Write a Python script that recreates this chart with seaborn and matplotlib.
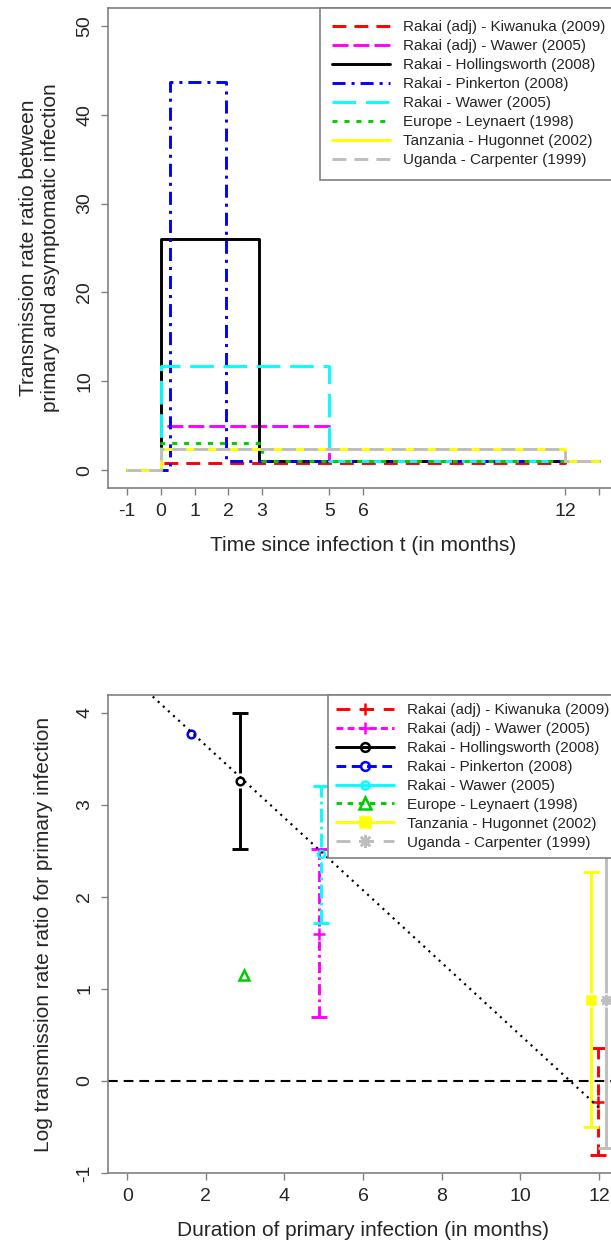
import matplotlib

matplotlib.use('Agg')
import matplotlib.pyplot as plt
from matplotlib.lines import Line2D
import seaborn as sns
import numpy as np

# studies, in legend order (same order for both panels)
studies = ['Rakai (adj) - Kiwanuka (2009)', 'Rakai (adj) - Wawer (2005)',
           'Rakai - Hollingsworth (2008)', 'Rakai - Pinkerton (2008)',
           'Rakai - Wawer (2005)', 'Europe - Leynaert (1998)',
           'Tanzania - Hugonnet (2002)', 'Uganda - Carpenter (1999)']

# top panel: rate ratio as a step function of time since infection (months)
step_t = [
    [-1, 0, 12, 13],
    [-1, 0, 5, 13],
    [-1, 0, 2.9, 13],
    [-1, 0.28, 1.93, 13],
    [-1, 0, 5, 13],
    [-1, 0, 3, 13],
    [-1, 0, 12, 13],
    [-1, 0, 12, 13],
]
step_rr = [
    [0, 0.78, 1, 1],
    [0, 5.0, 1, 1],
    [0, 26.0, 1, 1],
    [0, 43.7, 1, 1],
    [0, 11.7, 1, 1],
    [0, 3.1, 1, 1],
    [0, 2.4, 1, 1],
    [0, 2.4, 1, 1],
]
top_ticks = [-1, 0, 1, 2, 3, 5, 6, 12, 13]
top_ticklabels = ['-1', '0', '1', '2', '3', '5', '6', '12', '']

# bottom panel: duration vs log rate ratio with CI
dur = [11.98, 4.87, 2.87, 1.61, 4.93, 2.97, 11.79, 12.17]
log_rr = [-0.23, 1.60, 3.26, 3.77, 2.46, 1.15, 0.88, 0.88]
ci_lo = [-0.81, 0.69, 2.52, np.nan, 1.71, np.nan, -0.50, -0.73]
ci_hi = [0.36, 2.52, 4.00, np.nan, 3.20, np.nan, 2.27, 3.30]
reg_x = [0, 12]
reg_y = [4.43, -0.29]

# styles
colors = ['#ff0000', '#ff00ff', '#000000', '#0000ff', '#00ffff', '#00cd00', '#ffff00', '#bebebe']
top_ls = [(0, (10, 5.8)), (0, (11.5, 3.6)), '-', (0, (9.4, 4.3, 2.2, 4.3)),
          (0, (17, 7)), (0, (3.6, 5)), '-', (0, (10, 5.8))]
bar_ls = [(0, (8, 5)), (0, (8, 3, 2, 3)), '-', '-', (0, (10, 3, 2, 3)), '-', '-', '-']
leg_ls = [(0, (10, 7)), (0, (5, 3)), '-', (0, (7, 4)), '-', (0, (4, 4)), '-', (0, (10, 7))]
markers = ['+', '+', 'o', 'o', 'o', '^', 's', (8, 2, 0)]
msizes = [8, 8, 5.5, 5.5, 5, 7, 6, 8]
mfaces = ['none', 'none', 'none', 'none', 'none', 'none', '#ffff00', 'none']

sns.set_style('white')
plt.rcParams.update({
    'font.family': ['Liberation Sans', 'DejaVu Sans'],
    'lines.scale_dashes': False,
    'axes.unicode_minus': False,
    'axes.edgecolor': '#808080',
    'axes.linewidth': 1.2,
})

fig = plt.figure(figsize=(6.11, 12.41), dpi=100)
ax1 = fig.add_axes([0.1773, 0.6068, 0.834, 0.3868])
ax2 = fig.add_axes([0.1773, 0.0548, 0.834, 0.3852])

# ---- top panel
for name, t, rr, c, ls in zip(studies, step_t, step_rr, colors, top_ls):
    sns.lineplot(x=t, y=rr, ax=ax1, color=c, lw=2.1, linestyle=ls,
                 drawstyle='steps-post', label=name, estimator=None,
                 sort=False, errorbar=None, legend=False)

ax1.set_xlim(-1.56, 13.56)
ax1.set_ylim(-2, 52)
ax1.set_xticks(top_ticks)
ax1.set_xticklabels(top_ticklabels)
ax1.set_yticks([0, 10, 20, 30, 40, 50])
ax1.set_xlabel('Time since infection t (in months)', fontsize=15)
ax1.set_ylabel('Transmission rate ratio between\nprimary and asymptomatic infection',
               fontsize=15, linespacing=1.22)
leg1 = ax1.legend(loc='upper right', borderaxespad=0, fancybox=False, framealpha=1,
                  edgecolor='#808080', fontsize=11, handlelength=3.8,
                  handletextpad=0.85, borderpad=0.8, labelspacing=0.33)
leg1.get_frame().set_linewidth(1.2)

# ---- bottom panel
ax2.axhline(0, color='black', lw=1.5, linestyle=(0, (7, 4.3)), zorder=1)
gap = 0.08
capw = 11
for i, c in enumerate(colors):
    x, y, lo, hi = dur[i], log_rr[i], ci_lo[i], ci_hi[i]
    if not np.isnan(lo):
        ax2.vlines([x, x], [lo, y + gap], [y - gap, hi], colors=c, lw=2.1,
                   linestyles=[bar_ls[i]], zorder=2)
        ax2.plot([x, x], [lo, hi], ls='none', marker='_', ms=capw, mew=2.1,
                 color=c, zorder=2)
    ax2.plot([x], [y], ls='none', marker=markers[i], ms=msizes[i], mew=1.8,
             color=c, mfc=mfaces[i], zorder=3)

sns.lineplot(x=reg_x, y=reg_y, ax=ax2, color='black', lw=1.6,
             linestyle=(0, (1.5, 3.5)), estimator=None, sort=False,
             errorbar=None, legend=False, zorder=4)

ax2.set_xlim(-0.48, 12.48)
ax2.set_ylim(-0.992, 4.192)
ax2.set_xticks([0, 2, 4, 6, 8, 10, 12])
ax2.set_yticks([-1, 0, 1, 2, 3, 4])
ax2.set_xlabel('Duration of primary infection (in months)', fontsize=15)
ax2.set_ylabel('Log transmission rate ratio for primary infection', fontsize=15)

handles = [Line2D([], [], color=c, lw=2.1, linestyle=ls, marker=m, ms=ms * 1.15, mew=1.8, mfc=mf)
           for c, ls, m, ms, mf in zip(colors, leg_ls, markers, msizes, mfaces)]
leg2 = ax2.legend(handles, studies, loc='upper right', borderaxespad=0, fancybox=False,
                  framealpha=1, edgecolor='#808080', fontsize=11, handlelength=3.8,
                  handletextpad=0.85, borderpad=0.55, labelspacing=0.32, numpoints=1)
leg2.get_frame().set_linewidth(1.2)

for ax in (ax1, ax2):
    ax.tick_params(axis='both', direction='out', length=5, width=1, color='#808080',
                   labelsize=14, pad=6, bottom=True, left=True)
    for lab in ax.get_yticklabels():
        lab.set_rotation(90)
        lab.set_va('center')
    ax.xaxis.set_label_coords(0.5, -0.1)
    for s in ax.spines.values():
        s.set_color('#808080')

ax1.yaxis.set_label_coords(-0.095, 0.5)
ax2.yaxis.set_label_coords(-0.108, 0.5)

fig.savefig('out.png', dpi=100)
